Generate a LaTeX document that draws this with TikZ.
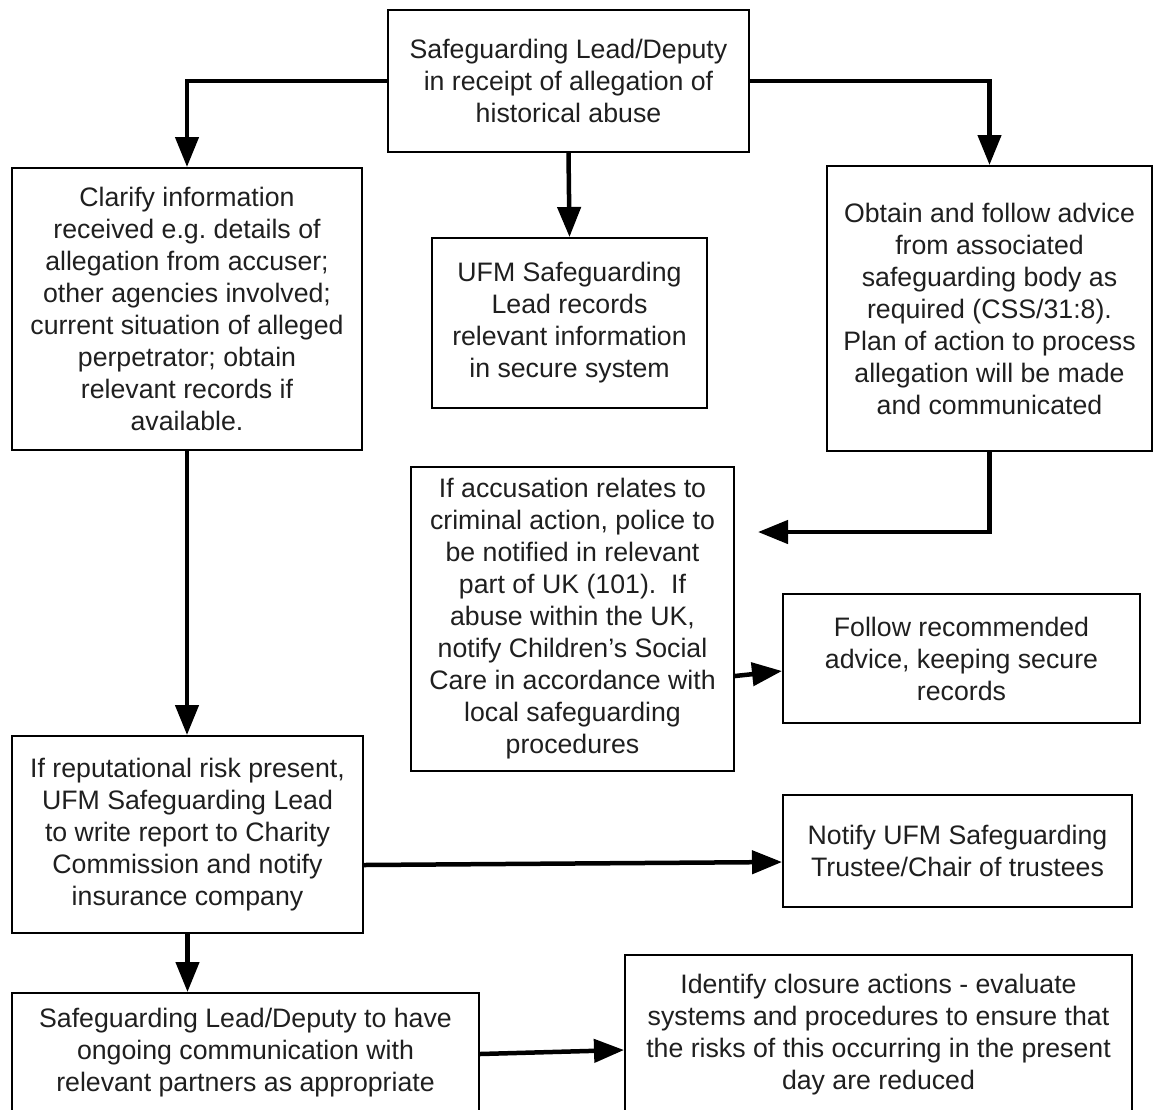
\documentclass[tikz,border=0pt]{standalone}
\usepackage{fontspec}
\setmainfont{Liberation Sans}
\usetikzlibrary{arrows.meta}
\frenchspacing
\definecolor{txt}{HTML}{1F1F1F}
\tikzset{
  box/.style={draw=black, line width=2pt, inner sep=0pt, align=center, text=txt,
    font=\fontsize{26.7}{32}\selectfont\frenchspacing},
  arr/.style={line width=4.5pt, -{Triangle[length=30pt,width=23pt]}}
}
\begin{document}
\begin{tikzpicture}[x=1pt,y=-1pt]
\useasboundingbox (0,0) rectangle (1153,1109);
\clip (0,0) rectangle (1153,1109);
\node[box, minimum width=361pt, minimum height=142pt] (b1) at (568.5,81)
  {Safeguarding Lead/Deputy\\in receipt of allegation of\\historical abuse};
\node[box, minimum width=350pt, minimum height=282pt] (b2) at (187,309)
  {Clarify information\\received e.g. details of\\allegation from accuser;\\other agencies involved;\\current situation of alleged\\perpetrator; obtain\\relevant records if\\available.};
\node[box, minimum width=275pt, minimum height=170pt] (b3) at (569.5,323)
  {UFM Safeguarding\\Lead records\\relevant information\\in secure system};
\node[box, minimum width=325pt, minimum height=285pt] (b4) at (989.5,308.5)
  {Obtain and follow advice\\from associated\\safeguarding body as\\required (CSS/31:8).\\Plan of action to process\\allegation will be made\\and communicated};
\node[box, minimum width=323pt, minimum height=304pt] (b5) at (572.5,619)
  {If accusation relates to\\criminal action, police to\\be notified in relevant\\part of UK (101).\ \ If\\abuse within the UK,\\notify Children’s Social\\Care in accordance with\\local safeguarding\\procedures};
\node[box, minimum width=357pt, minimum height=129pt] (b6) at (961.5,658.5)
  {Follow recommended\\advice, keeping secure\\records};
\node[box, minimum width=351pt, minimum height=197pt] (b7) at (187.5,834.5)
  {If reputational risk present,\\UFM Safeguarding Lead\\to write report to Charity\\Commission and notify\\insurance company};
\node[box, minimum width=349pt, minimum height=112pt] (b8) at (957.5,851)
  {Notify UFM Safeguarding\\Trustee/Chair of trustees};
\node[box, minimum width=467pt, minimum height=120pt] (b9) at (245.5,1053)
  {Safeguarding Lead/Deputy to have\\ongoing communication with\\relevant partners as appropriate};
\node[box, minimum width=507pt, minimum height=160pt] (b10) at (878.5,1035)
  {Identify closure actions - evaluate\\systems and procedures to ensure that\\the risks of this occurring in the present\\day are reduced};
\coordinate (c5) at (758,532);
\draw[arr] (b1.west) -| (b2.north);
\draw[arr] (b1.east) -| (b4.north);
\draw[arr] (b1.south) -- (b3.north);
\draw[arr] (b2.south) -- (b2.south |- b7.north);
\draw[arr] (b4.south) |- (c5);
\draw[arr] ([yshift=-57pt]b5.east) -- ([yshift=-12.5pt]b6.west);
\draw[arr] ([yshift=-30.5pt]b7.east) -- ([yshift=-11pt]b8.west);
\draw[arr] (b7.south) -- (b7.south |- b9.north);
\draw[arr] ([yshift=-1pt]b9.east) -- ([yshift=-15pt]b10.west);
\end{tikzpicture}
\end{document}
